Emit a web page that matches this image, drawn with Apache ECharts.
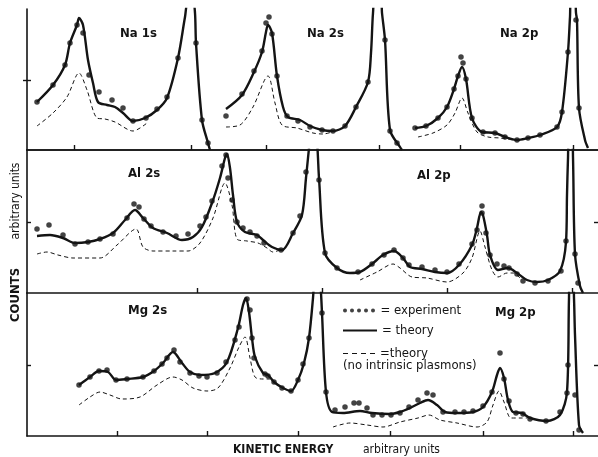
<!DOCTYPE html>
<html>
<head>
<meta charset="utf-8">
<title>Plasmon satellites</title>
<script src="https://cdn.jsdelivr.net/npm/echarts@6/dist/echarts.min.js"></script>
<style>
  html, body { margin: 0; padding: 0; background: #fff; }
  #chart { width: 598px; height: 457px; }
</style>
</head>
<body>
<div id="chart"></div>
<script>
// kinetic energy (arb. units) vs counts (arb. units)
const energyMax = 571;
const countsMax = [141, 143, 143];

// --- top row: Na ---
const na1sTheory = [[10,48],[26,65],[38,85],[43,107],[50,125],[52,132],[56,125],[61,90],[66,67],[71,48],[80,45],[88,43],[96,37],[106,29],[118,32],[130,40],[140,52],[151,92],[158,133],[161,148],[166,148],[168,137],[169,107],[175,30],[181,7],[183,0]];
const na1sNoPlasmon = [[10,24],[26,37],[40,53],[52,77],[60,60],[70,32],[78,31],[88,28],[106,19],[120,27]];
const na1sExp = [[10,48],[26,65],[38,85],[43,107],[50,125],[56,117],[62,75],[72,58],[85,50],[96,42],[106,29],[119,32],[130,41],[140,53],[151,92],[169,107],[175,30],[181,7]];

const na2sTheory = [[199,41],[215,55],[227,78],[235,98],[239,118],[241,125],[245,117],[250,74],[256,43],[261,33],[273,30],[283,24],[295,20],[306,19],[318,24],[329,43],[341,68],[344,97],[346,137],[348,150],[354,150],[355,137],[358,110],[363,20],[373,3],[375,0]];
const na2sNoPlasmon = [[199,23],[213,25],[226,43],[241,74],[248,47],[255,25],[270,22],[286,17],[296,16],[305,18]];
const na2sExp = [[199,34],[215,56],[227,79],[235,99],[239,127],[242,133],[245,116],[250,74],[260,34],[271,29],[283,23],[295,20],[306,19],[318,24],[329,43],[341,68],[358,110],[363,19],[370,7]];

const na2pTheory = [[388,22],[399,24],[411,32],[420,43],[427,61],[431,74],[435,83],[439,71],[445,32],[455,18],[468,17],[478,13],[490,10],[501,12],[513,15],[530,23],[535,38],[541,98],[543,133],[544,150],[548,150],[549,137],[550,130],[552,42],[558,10],[561,2]];
const na2pNoPlasmon = [[391,13],[406,17],[420,25],[428,37],[435,52],[441,37],[450,18],[461,13],[473,12],[486,10]];
const na2pExp = [[388,22],[399,24],[411,32],[420,43],[427,61],[431,74],[434,93],[436,87],[439,71],[445,32],[456,18],[468,17],[478,13],[490,10],[501,12],[513,15],[530,23],[535,38],[541,98],[549,130],[552,42]];

// --- middle row: Al ---
const al2sTheory = [[10,57],[23,58],[36,55],[48,50],[61,51],[73,54],[86,60],[98,73],[108,83],[116,75],[126,65],[140,60],[155,53],[166,56],[175,66],[185,90],[193,115],[198,135],[200,139],[203,125],[206,98],[210,71],[218,61],[230,58],[236,53],[245,46],[255,43],[266,60],[275,78],[279,115],[281,135],[283,155]];
const al2sNoPlasmon = [[10,39],[20,41],[31,38],[46,35],[73,35],[90,48],[109,64],[116,46],[126,42],[146,42],[161,42],[173,50],[186,75],[198,110],[205,88],[210,54],[220,52],[231,50],[240,45],[246,41],[255,44]];
const al2sExp = [[10,64],[22,68],[36,58],[48,49],[61,51],[73,54],[86,59],[100,75],[107,89],[112,86],[117,74],[124,67],[136,61],[149,57],[161,59],[173,67],[179,76],[185,92],[195,127],[199,138],[201,115],[205,93],[210,71],[216,65],[223,61],[230,57],[237,50],[254,43],[266,60],[273,77],[279,121]];

const al2pTheory = [[290,155],[291,135],[292,115],[298,40],[310,25],[323,20],[333,21],[345,29],[356,38],[367,42],[376,35],[383,26],[395,24],[408,21],[420,20],[432,28],[445,48],[450,65],[454,81],[456,78],[460,58],[463,38],[471,23],[481,25],[490,20],[500,13],[510,11],[521,13],[533,22],[539,51],[540,98],[541,135],[542,155],[545,155],[546,136],[548,39],[553,7],[556,0]];
const al2pNoPlasmon = [[333,13],[350,21],[366,29],[373,25],[385,16],[400,15],[420,11],[436,20],[445,35],[453,62],[458,46],[465,23],[471,16],[480,20],[486,20],[493,15]];
const al2pExp = [[292,113],[298,40],[310,25],[331,21],[345,29],[357,38],[367,43],[376,35],[382,28],[395,26],[408,23],[420,21],[432,29],[445,49],[450,63],[455,80],[455,87],[459,60],[463,38],[470,29],[477,27],[482,25],[490,19],[496,12],[508,10],[521,12],[534,22],[539,52],[548,39],[551,10]];

// --- bottom row: Mg ---
const mg2sTheory = [[52,51],[63,59],[72,65],[81,64],[89,56],[100,57],[116,59],[127,65],[136,73],[146,84],[155,73],[163,64],[173,61],[188,63],[200,74],[211,108],[216,131],[219,138],[222,124],[225,98],[228,79],[236,63],[241,61],[247,54],[256,48],[264,45],[271,56],[277,73],[282,98],[286,138],[287,155]];
const mg2sNoPlasmon = [[52,31],[63,39],[73,44],[83,41],[95,37],[113,39],[130,51],[146,59],[155,56],[166,48],[180,45],[191,48],[203,68],[212,89],[218,99],[223,78],[228,59],[236,57],[243,57]];
const mg2sExp = [[52,51],[63,59],[72,65],[80,66],[89,56],[100,57],[116,59],[127,65],[135,72],[140,78],[147,86],[153,74],[163,63],[172,60],[180,59],[190,63],[199,74],[208,96],[212,109],[220,137],[223,126],[225,98],[227,78],[238,62],[241,60],[247,54],[255,48],[264,45],[271,56],[276,72],[282,98]];

const mg2pTheory = [[293,155],[294,143],[295,123],[299,44],[305,24],[316,23],[333,25],[345,23],[363,22],[373,24],[383,28],[393,33],[401,36],[410,31],[418,24],[430,23],[446,24],[456,29],[465,44],[470,61],[473,68],[477,58],[481,36],[486,24],[495,23],[503,18],[520,15],[533,21],[540,44],[542,138],[543,155],[546,155],[547,138],[548,101],[552,11],[556,3]];
const mg2pNoPlasmon = [[306,9],[323,13],[340,11],[356,9],[373,14],[391,18],[402,21],[413,16],[430,13],[450,9],[460,14],[466,31],[472,45],[477,34],[484,18],[493,18],[500,18]];
const mg2pExp = [[295,123],[299,44],[308,26],[318,29],[327,33],[332,33],[340,28],[346,21],[355,21],[364,21],[373,23],[382,29],[391,36],[400,43],[406,41],[416,24],[428,24],[437,24],[446,25],[456,30],[465,44],[473,83],[477,57],[482,35],[489,23],[496,22],[503,17],[519,15],[533,24],[540,43],[541,71],[548,41],[552,6]];

// tick marks along each row
const bottomTicks = [[47,164,239,352,433,546],[170,295,420,545],[90,180,271,363,456,546]];
const sideTicks = [70, 71, 71];

const panelNames = ['Na 1s','Na 2s','Na 2p','Al 2s','Al 2p','Mg 2s','Mg 2p'];

const ink = '#141414';
const font = "'DejaVu Sans Condensed', 'Liberation Sans Narrow', 'DejaVu Sans', sans-serif";

const panels = [
  { row: 0, theory: na1sTheory, noPlasmon: na1sNoPlasmon, exp: na1sExp, left: 120, top: 27 },
  { row: 0, theory: na2sTheory, noPlasmon: na2sNoPlasmon, exp: na2sExp, left: 307, top: 27 },
  { row: 0, theory: na2pTheory, noPlasmon: na2pNoPlasmon, exp: na2pExp, left: 500, top: 27 },
  { row: 1, theory: al2sTheory, noPlasmon: al2sNoPlasmon, exp: al2sExp, left: 128, top: 167 },
  { row: 1, theory: al2pTheory, noPlasmon: al2pNoPlasmon, exp: al2pExp, left: 417, top: 169 },
  { row: 2, theory: mg2sTheory, noPlasmon: mg2sNoPlasmon, exp: mg2sExp, left: 128, top: 304 },
  { row: 2, theory: mg2pTheory, noPlasmon: mg2pNoPlasmon, exp: mg2pExp, left: 495, top: 306 }
];

const grids = [
  { left: 27, top: 9, width: 571, height: 141 },
  { left: 27, top: 150, width: 571, height: 143 },
  { left: 27, top: 293, width: 571, height: 143 }
];

const frameLine = { show: true, lineStyle: { color: ink, width: 1.6 } };
const tickStyle = { color: ink, width: 1.4 };

let xAxes = [];
let yAxes = [];
grids.forEach((g, i) => {
  xAxes.push({
    type: 'value', gridIndex: i, min: 0, max: energyMax,
    axisLine: frameLine,
    axisTick: { show: true, inside: true, length: 5, customValues: bottomTicks[i], lineStyle: tickStyle },
    axisLabel: { show: false, customValues: bottomTicks[i] },
    splitLine: { show: false }
  });
});
// top border of the whole frame
xAxes.push({
  type: 'value', gridIndex: 0, min: 0, max: energyMax, position: 'top',
  axisLine: frameLine, axisTick: { show: false }, axisLabel: { show: false }, splitLine: { show: false }
});
grids.forEach((g, i) => {
  yAxes.push({
    type: 'value', gridIndex: i, min: 0, max: countsMax[i],
    axisLine: frameLine,
    axisTick: { show: true, inside: true, length: 4, customValues: [sideTicks[i]], lineStyle: tickStyle },
    axisLabel: { show: false, customValues: [sideTicks[i]] },
    splitLine: { show: false }
  });
});
grids.forEach((g, i) => {
  yAxes.push({
    type: 'value', gridIndex: i, min: 0, max: countsMax[i], position: 'right',
    axisLine: { show: false },
    axisTick: { show: true, inside: true, length: 4, customValues: [sideTicks[i]], lineStyle: tickStyle },
    axisLabel: { show: false, customValues: [sideTicks[i]] },
    splitLine: { show: false }
  });
});

let series = [];
panels.forEach(p => {
  series.push({
    name: 'theory', type: 'line', xAxisIndex: p.row, yAxisIndex: p.row,
    data: p.theory, smooth: 0.3, symbol: 'none', clip: true,
    lineStyle: { color: ink, width: 2.4 }, itemStyle: { color: ink }, z: 3
  });
  series.push({
    name: 'theory (no intrinsic plasmons)', type: 'line', xAxisIndex: p.row, yAxisIndex: p.row,
    data: p.noPlasmon, smooth: 0.3, symbol: 'none', clip: true,
    lineStyle: { color: ink, width: 1, type: [4, 3] }, itemStyle: { color: ink }, z: 2
  });
  series.push({
    name: 'experiment', type: 'scatter', xAxisIndex: p.row, yAxisIndex: p.row,
    data: p.exp, symbol: 'circle', symbolSize: 5.5, clip: true,
    itemStyle: { color: ink }, z: 4
  });
});

const titles = panels.map((p, i) => ({
  text: panelNames[i], left: p.left, top: p.top, padding: 0,
  textStyle: { fontFamily: font, fontSize: 13, fontWeight: 'bold', color: ink }
}));

const legendText = { fontFamily: font, fontSize: 13, color: ink };
const dotsIcon = 'path://M0,2a2,2 0 1,0 4,0a2,2 0 1,0 -4,0M7,2a2,2 0 1,0 4,0a2,2 0 1,0 -4,0M14,2a2,2 0 1,0 4,0a2,2 0 1,0 -4,0M21,2a2,2 0 1,0 4,0a2,2 0 1,0 -4,0M28,2a2,2 0 1,0 4,0a2,2 0 1,0 -4,0';
const solidIcon = 'path://M0,0H34V2H0Z';
const dashIcon = 'path://M0,0H5V1H0ZM9,0H14V1H9ZM18,0H23V1H18ZM27,0H32V1H27Z';

const chart = echarts.init(document.getElementById('chart'), null, { renderer: 'canvas' });
chart.setOption({
  animation: false,
  backgroundColor: '#fff',
  title: titles,
  grid: grids,
  xAxis: xAxes,
  yAxis: yAxes,
  legend: [
    { data: [{ name: 'experiment', icon: dotsIcon }], left: 343, top: 304, padding: 0,
      itemWidth: 33, itemHeight: 4, selectedMode: false, formatter: '= {name}', textStyle: legendText,
      itemStyle: { color: ink, borderWidth: 0 } },
    { data: [{ name: 'theory', icon: solidIcon }], left: 343, top: 324, padding: 0,
      itemWidth: 34, itemHeight: 2.2, selectedMode: false, formatter: '= {name}', textStyle: legendText,
      itemStyle: { color: ink, borderWidth: 0 } },
    { data: [{ name: 'theory (no intrinsic plasmons)', icon: dashIcon }], left: 343, top: 347, padding: 0,
      itemWidth: 32, itemHeight: 1.2, selectedMode: false, formatter: '=theory', textStyle: legendText,
      itemStyle: { color: ink, borderWidth: 0 } }
  ],
  graphic: [
    { type: 'text', left: 343, top: 359,
      style: { text: '(no intrinsic plasmons)', fill: ink, font: '13px ' + font } },
    { type: 'text', x: 16, y: 201, rotation: Math.PI / 2,
      style: { text: 'arbitrary units', fill: ink, font: '12px ' + font, textAlign: 'center', textVerticalAlign: 'middle' } },
    { type: 'text', x: 16, y: 295, rotation: Math.PI / 2,
      style: { text: 'COUNTS', fill: ink, font: 'bold 13px ' + font, textAlign: 'center', textVerticalAlign: 'middle' } },
    { type: 'text', left: 233, top: 444,
      style: { text: 'KINETIC ENERGY', fill: ink, font: 'bold 12px ' + font } },
    { type: 'text', left: 363, top: 444,
      style: { text: 'arbitrary units', fill: ink, font: '12px ' + font } }
  ],
  series: series
});
</script>
</body>
</html>
